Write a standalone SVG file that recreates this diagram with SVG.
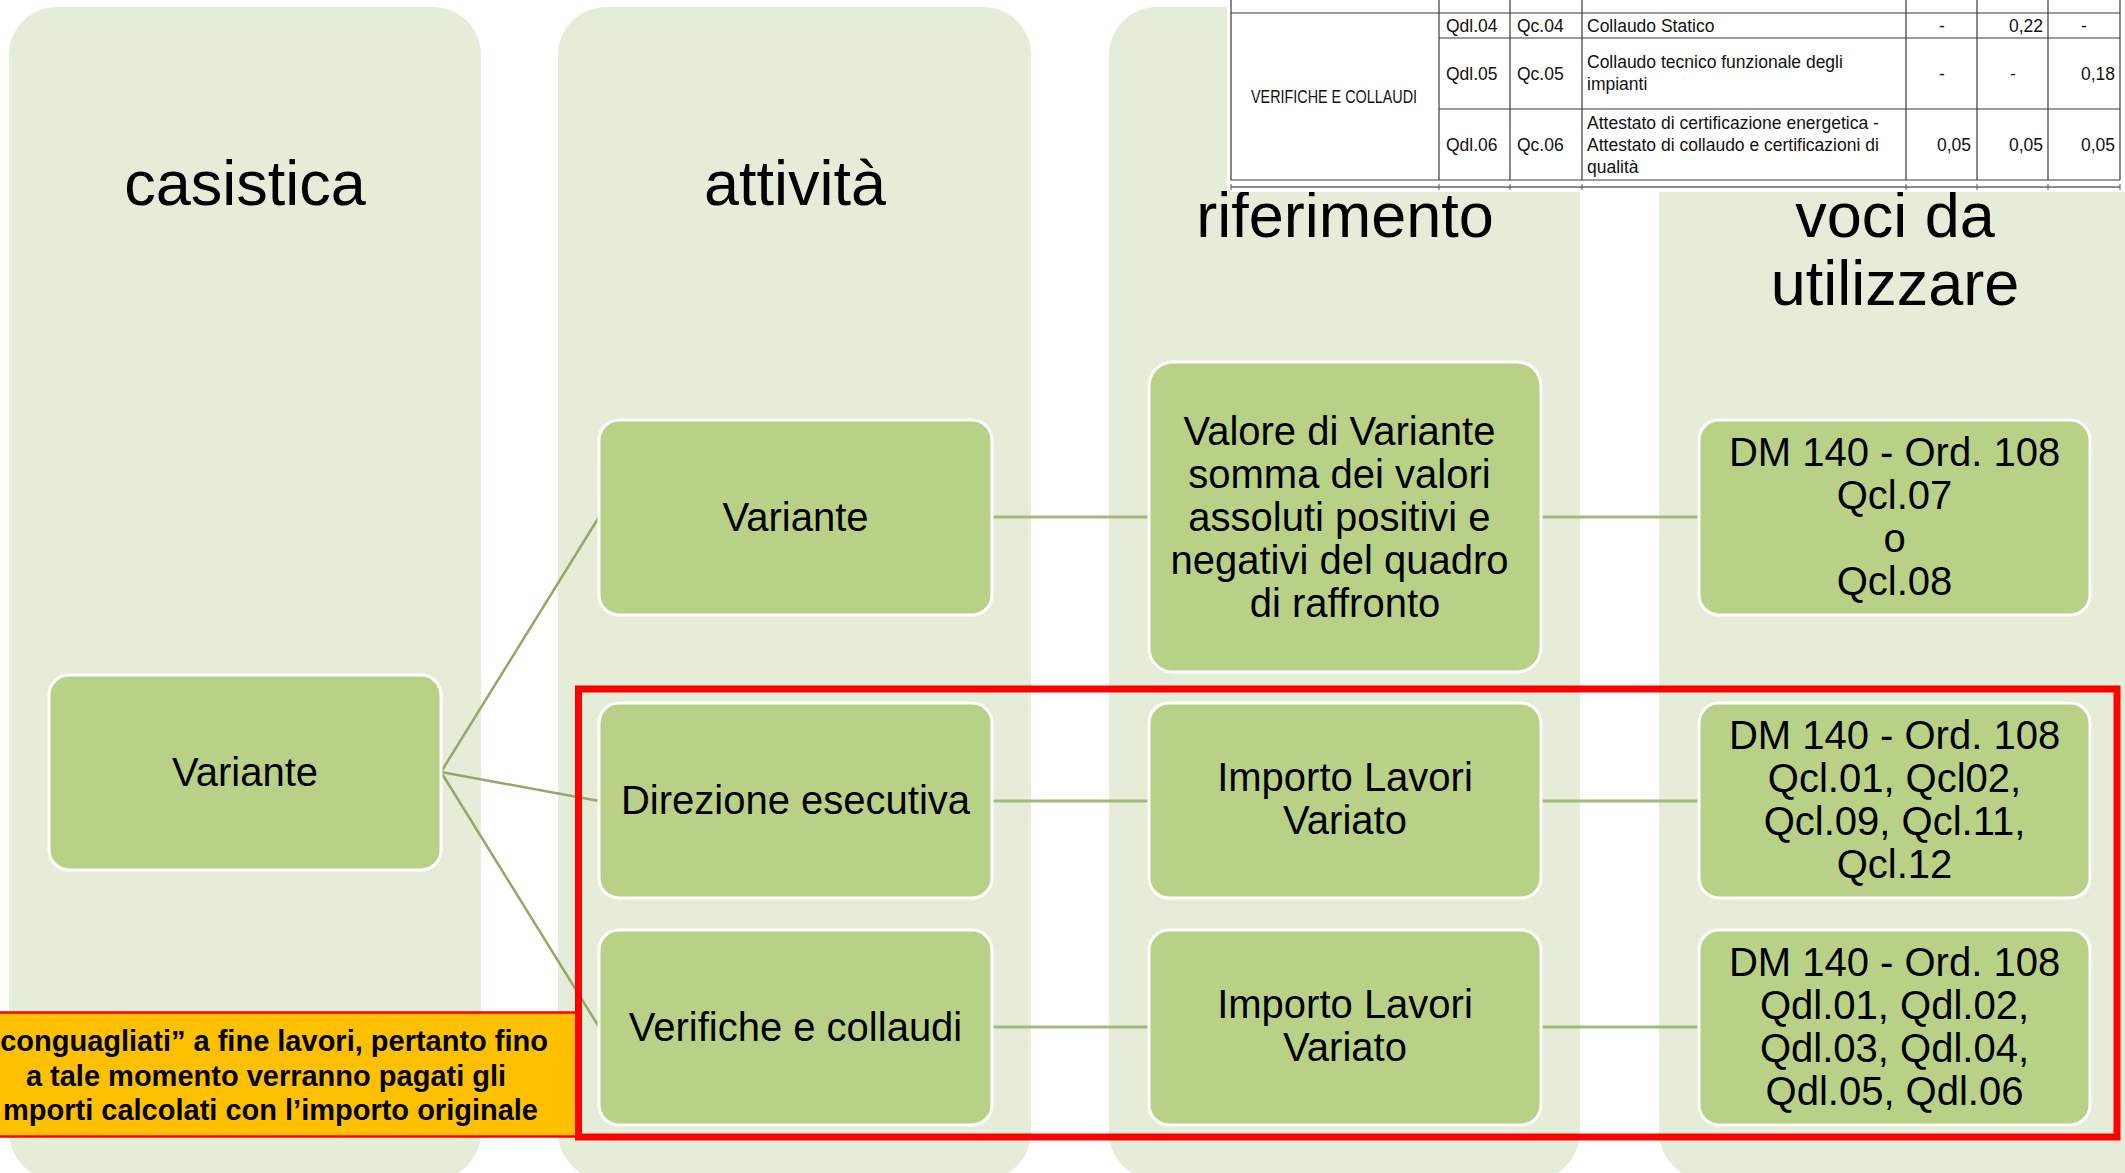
<svg xmlns="http://www.w3.org/2000/svg" width="2125" height="1173" viewBox="0 0 2125 1173">
<style>
.col{fill:#E5EDD8;}
.node rect{fill:#B9D187;stroke:#FFFFFF;stroke-width:3;}
.nt{font-family:"Liberation Sans",Arial,sans-serif;font-size:40px;fill:#000;text-anchor:middle;}
.title{font-family:"Liberation Sans",Arial,sans-serif;font-size:63px;fill:#000;text-anchor:middle;}
.diag{stroke:#93A867;stroke-width:2.5;fill:none;}
.hor{stroke:#A3BA7C;stroke-width:3;fill:none;}
.tl{stroke:#3A3A3A;stroke-width:1.2;fill:none;}
.tt{font-family:"Liberation Sans",Arial,sans-serif;font-size:17.5px;fill:#111;}
.yt{font-family:"Liberation Sans",Arial,sans-serif;font-size:29px;font-weight:bold;fill:#000;}
</style>
<rect width="2125" height="1173" fill="#FFFFFF"/>
<g id="columns">
<rect class="col" x="9" y="7" width="472" height="1173" rx="48" ry="48"/>
<rect class="col" x="558" y="7" width="473" height="1173" rx="48" ry="48"/>
<rect class="col" x="1109" y="7" width="471" height="1173" rx="48" ry="48"/>
<rect class="col" x="1659" y="7" width="520" height="1173" rx="48" ry="48"/>
</g>
<g id="titles">
<text class="title" x="245" y="205">casistica</text>
<text class="title" x="795" y="205">attività</text>
<text class="title" x="1345" y="237">riferimento</text>
<text class="title" x="1895" y="237">voci da</text>
<text class="title" x="1895" y="305">utilizzare</text>
</g>
<g id="table">
<rect x="1227" y="0" width="898" height="192" fill="#FFFFFF"/>
<line class="tl" x1="1231" y1="13" x2="2120" y2="13" stroke-width="2"/>
<line class="tl" x1="1439" y1="38" x2="2120" y2="38"/>
<line class="tl" x1="1439" y1="109" x2="2120" y2="109"/>
<line class="tl" x1="1231" y1="180" x2="2120" y2="180" stroke-width="2"/>
<line class="tl" x1="1231" y1="0" x2="1231" y2="180"/>
<line class="tl" x1="1439" y1="0" x2="1439" y2="180"/>
<line class="tl" x1="1510" y1="0" x2="1510" y2="180"/>
<line class="tl" x1="1582" y1="0" x2="1582" y2="180"/>
<line class="tl" x1="1906" y1="0" x2="1906" y2="180"/>
<line class="tl" x1="1977" y1="0" x2="1977" y2="180"/>
<line class="tl" x1="2048" y1="0" x2="2048" y2="180"/>
<line class="tl" x1="2120" y1="0" x2="2120" y2="180"/>
<line x1="1231" y1="187" x2="2120" y2="187" stroke="#8C8C8C" stroke-width="2"/>
<g stroke="#555" stroke-width="1">
<line x1="1231" y1="184" x2="1231" y2="190"/>
<line x1="1439" y1="184" x2="1439" y2="190"/>
<line x1="1510" y1="184" x2="1510" y2="190"/>
<line x1="1582" y1="184" x2="1582" y2="190"/>
<line x1="1906" y1="184" x2="1906" y2="190"/>
<line x1="1977" y1="184" x2="1977" y2="190"/>
<line x1="2048" y1="184" x2="2048" y2="190"/>
<line x1="2120" y1="184" x2="2120" y2="190"/>
</g>
<text class="tt" x="1334" y="103" text-anchor="middle" textLength="166" lengthAdjust="spacingAndGlyphs">VERIFICHE E COLLAUDI</text>
<text class="tt" x="1446" y="32">Qdl.04</text>
<text class="tt" x="1517" y="32">Qc.04</text>
<text class="tt" x="1587" y="32">Collaudo Statico</text>
<text class="tt" x="1942" y="32" text-anchor="middle">-</text>
<text class="tt" x="2043" y="32" text-anchor="end">0,22</text>
<text class="tt" x="2084" y="32" text-anchor="middle">-</text>
<text class="tt" x="1446" y="80">Qdl.05</text>
<text class="tt" x="1517" y="80">Qc.05</text>
<text class="tt" x="1587" y="68">Collaudo tecnico funzionale degli</text>
<text class="tt" x="1587" y="90">impianti</text>
<text class="tt" x="1942" y="80" text-anchor="middle">-</text>
<text class="tt" x="2013" y="80" text-anchor="middle">-</text>
<text class="tt" x="2115" y="80" text-anchor="end">0,18</text>
<text class="tt" x="1446" y="151">Qdl.06</text>
<text class="tt" x="1517" y="151">Qc.06</text>
<text class="tt" x="1587" y="129">Attestato di certificazione energetica -</text>
<text class="tt" x="1587" y="151">Attestato di collaudo e certificazioni di</text>
<text class="tt" x="1587" y="173">qualità</text>
<text class="tt" x="1971" y="151" text-anchor="end">0,05</text>
<text class="tt" x="2043" y="151" text-anchor="end">0,05</text>
<text class="tt" x="2115" y="151" text-anchor="end">0,05</text>
</g>
<g id="connectors">
<line class="diag" x1="441" y1="772" x2="599" y2="517"/>
<line class="diag" x1="441" y1="772" x2="599" y2="801"/>
<line class="diag" x1="441" y1="772" x2="599" y2="1027"/>
<line class="hor" x1="992" y1="517" x2="1149" y2="517"/>
<line class="hor" x1="992" y1="801" x2="1149" y2="801"/>
<line class="hor" x1="992" y1="1027" x2="1149" y2="1027"/>
<line class="hor" x1="1541" y1="517" x2="1699" y2="517"/>
<line class="hor" x1="1541" y1="801" x2="1699" y2="801"/>
<line class="hor" x1="1541" y1="1027" x2="1699" y2="1027"/>
</g>
<g id="n-casistica-variante" class="node">
<rect x="49" y="675" width="392" height="195" rx="20"/>
<text class="nt" x="245" y="786">Variante</text>
</g>
<g id="n-att-variante" class="node">
<rect x="599" y="420" width="393" height="195" rx="20"/>
<text class="nt" x="795.5" y="531">Variante</text>
</g>
<g id="n-att-direzione" class="node">
<rect x="599" y="703" width="393" height="195" rx="20"/>
<text class="nt" x="795.5" y="814">Direzione esecutiva</text>
</g>
<g id="n-att-verifiche" class="node">
<rect x="599" y="930" width="393" height="195" rx="20"/>
<text class="nt" x="795.5" y="1041">Verifiche e collaudi</text>
</g>
<g id="n-rif-valore" class="node">
<rect x="1149" y="362" width="392" height="310" rx="24"/>
<text class="nt">
<tspan x="1345" y="444.5">Valore di Variante</tspan>
<tspan x="1345" y="487.5">somma dei valori</tspan>
<tspan x="1345" y="530.5">assoluti positivi e</tspan>
<tspan x="1345" y="573.5">negativi del quadro</tspan>
<tspan x="1345" y="616.5">di raffronto</tspan>
</text>
</g>
<g id="n-rif-importo1" class="node">
<rect x="1149" y="703" width="392" height="195" rx="20"/>
<text class="nt"><tspan x="1345" y="791">Importo Lavori</tspan><tspan x="1345" y="834">Variato</tspan></text>
</g>
<g id="n-rif-importo2" class="node">
<rect x="1149" y="930" width="392" height="195" rx="20"/>
<text class="nt"><tspan x="1345" y="1018">Importo Lavori</tspan><tspan x="1345" y="1061">Variato</tspan></text>
</g>
<g id="n-voci-1" class="node">
<rect x="1699" y="420" width="391" height="195" rx="20"/>
<text class="nt"><tspan x="1894.5" y="465.5">DM 140 - Ord. 108</tspan><tspan x="1894.5" y="508.8">Qcl.07</tspan><tspan x="1894.5" y="552.1">o</tspan><tspan x="1894.5" y="595.4">Qcl.08</tspan></text>
</g>
<g id="n-voci-2" class="node">
<rect x="1699" y="703" width="391" height="195" rx="20"/>
<text class="nt"><tspan x="1894.5" y="748.5">DM 140 - Ord. 108</tspan><tspan x="1894.5" y="791.8">Qcl.01, Qcl02,</tspan><tspan x="1894.5" y="835.1">Qcl.09, Qcl.11,</tspan><tspan x="1894.5" y="878.4">Qcl.12</tspan></text>
</g>
<g id="n-voci-3" class="node">
<rect x="1699" y="930" width="391" height="195" rx="20"/>
<text class="nt"><tspan x="1894.5" y="975.5">DM 140 - Ord. 108</tspan><tspan x="1894.5" y="1018.8">Qdl.01, Qdl.02,</tspan><tspan x="1894.5" y="1062.1">Qdl.03, Qdl.04,</tspan><tspan x="1894.5" y="1105.4">Qdl.05, Qdl.06</tspan></text>
</g>
<g id="note">
<rect x="-3" y="1012.5" width="580" height="124" fill="#FFC000" stroke="#FF0000" stroke-width="2.5"/>
<text class="yt" x="548" y="1051" text-anchor="end">conguagliati” a fine lavori, pertanto fino</text>
<text class="yt" x="266" y="1086" text-anchor="middle">a tale momento verranno pagati gli</text>
<text class="yt" x="538" y="1120" text-anchor="end">mporti calcolati con l’importo originale</text>
</g>
<g id="highlight">
<rect x="578.5" y="689" width="1538.5" height="448" fill="none" stroke="#FF0000" stroke-width="7"/>
</g>
</svg>
